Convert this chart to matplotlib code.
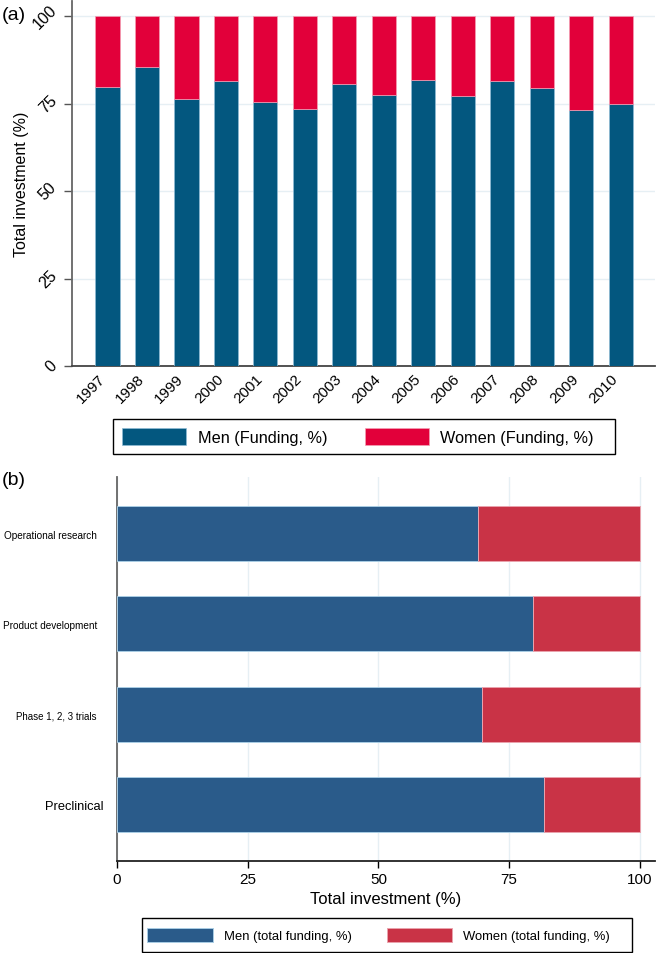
import matplotlib
matplotlib.use("Agg")
import matplotlib.pyplot as plt
import matplotlib.transforms as mtransforms
import numpy as np
from matplotlib.patches import Patch, Rectangle

plt.rcParams['font.family'] = ['Liberation Sans', 'DejaVu Sans']

# ---- Data panel (a) ----
years = ['1997', '1998', '1999', '2000', '2001', '2002', '2003',
         '2004', '2005', '2006', '2007', '2008', '2009', '2010']
men_a = [79.7, 85.4, 76.3, 81.4, 75.4, 73.4, 80.6,
         77.4, 81.7, 77.1, 81.4, 79.4, 73.1, 74.9]
women_a = [20.3, 14.6, 23.7, 18.6, 24.6, 26.6, 19.4,
           22.6, 18.3, 22.9, 18.6, 20.6, 26.9, 25.1]
yticks_a = [0, 25, 50, 75, 100]

# ---- Data panel (b) ----
categories_b = ['Preclinical', 'Phase 1, 2, 3 trials',
                'Product development', 'Operational research']
men_b = [81.6, 69.9, 79.6, 69.0]
women_b = [18.4, 30.1, 20.4, 31.0]
xticks_b = [0, 25, 50, 75, 100]

W, H = 658, 954
fig = plt.figure(figsize=(W / 100, H / 100), dpi=100)

men_col_a = '#03577f'
women_col_a = '#e2003a'
men_col_b = '#2a5b8a'
women_col_b = '#c93346'
grid_col = '#e6eff4'


def px(dx, dy=0):
    return mtransforms.ScaledTranslation(dx / 100, dy / 100, fig.dpi_scale_trans)


def frame(x0, y0, x1, y1):
    fig.patches.append(Rectangle((x0 / W, 1 - y1 / H), (x1 - x0) / W, (y1 - y0) / H,
                                 transform=fig.transFigure, fill=False,
                                 edgecolor='black', linewidth=1.0, zorder=5))


# ---------------- Panel (a) ----------------
axa = fig.add_axes([72 / W, 1 - 367 / H, 583 / W, 365 / H])
x = np.arange(len(years))
axa.bar(x, men_a, width=0.61, color=men_col_a, edgecolor='#8fbcd6', linewidth=0.5, zorder=3)
axa.bar(x, women_a, bottom=men_a, width=0.61, color=women_col_a, edgecolor='#f3a0b4', linewidth=0.5, zorder=3)
axa.set_xlim(-0.9, 13.87)
axa.set_ylim(0, 104.3)
axa.set_yticks(yticks_a)
axa.set_yticklabels([str(v) for v in yticks_a], rotation=45, fontsize=11.5, va='center', ha='right')
axa.set_xticks(x)
axa.set_xticklabels(years, rotation=45, ha='right', va='top', fontsize=11)
for lab in axa.get_xticklabels():
    lab.set_transform(lab.get_transform() + px(4, 0))
axa.tick_params(axis='x', length=0, pad=4)
axa.tick_params(axis='y', length=6, width=1, color='#555555', pad=3)
for v in yticks_a:
    axa.axhline(v, color=grid_col, lw=1, zorder=1)
for s in ['top', 'right']:
    axa.spines[s].set_visible(False)
axa.spines['left'].set_color('#666666')
axa.spines['left'].set_linewidth(1.3)
axa.spines['bottom'].set_color('#444444')
axa.spines['bottom'].set_linewidth(1.3)
axa.set_ylabel('Total investment (%)', fontsize=11.5)
axa.yaxis.set_label_coords(-0.074, 0.5)

fig.legend(handles=[Patch(facecolor=men_col_a, edgecolor='#8fbcd6', lw=0.5, label='Men (Funding, %)'),
                    Patch(facecolor=women_col_a, edgecolor='#f3a0b4', lw=0.5, label='Women (Funding, %)')],
           loc='center', bbox_to_anchor=(358 / W, 1 - 437.5 / H), ncol=2,
           fontsize=11.7, handlelength=3.95, handleheight=1.17, handletextpad=0.7,
           columnspacing=2.3, borderpad=0.0, frameon=False)
frame(113, 420, 615, 455)

fig.text(2 / W, 1 - 15 / H, '(a)', fontsize=14, ha='left', va='center')

# ---------------- Panel (b) ----------------
axb = fig.add_axes([117 / W, 1 - 862 / H, 538 / W, 384 / H])
yb = np.arange(len(categories_b))
axb.barh(yb, men_b, height=0.61, color=men_col_b, edgecolor='#a9cde3', linewidth=0.7, zorder=3)
axb.barh(yb, women_b, left=men_b, height=0.61, color=women_col_b, edgecolor='#eaa3ad', linewidth=0.7, zorder=3)
axb.set_xlim(0, 102.9)
axb.set_ylim(-0.626, 3.626)
axb.set_xticks(xticks_b)
axb.set_xticklabels([str(v) for v in xticks_b], fontsize=11)
axb.tick_params(axis='x', length=5, width=1, pad=3)
axb.set_yticks(yb)
axb.set_yticklabels(categories_b)
label_sizes = [9.3, 7.0, 7.2, 7.2]
for lab, fs in zip(axb.get_yticklabels(), label_sizes):
    lab.set_fontsize(fs)
axb.tick_params(axis='y', length=0, pad=14.4)
t0 = axb.get_yticklabels()[0]
t0.set_transform(t0.get_transform() + px(7, 0))
for v in xticks_b:
    axb.axvline(v, color=grid_col, lw=1, zorder=1)
for s in ['top', 'right']:
    axb.spines[s].set_visible(False)
axb.spines['left'].set_color('#666666')
axb.spines['left'].set_linewidth(1.3)
axb.spines['bottom'].set_color('#222222')
axb.spines['bottom'].set_linewidth(1.3)
axb.set_xlabel('Total investment (%)', fontsize=12)
axb.xaxis.set_label_coords(0.5, -0.078)

fig.legend(handles=[Patch(facecolor=men_col_b, edgecolor='#a9cde3', lw=0.7, label='Men (total funding, %)'),
                    Patch(facecolor=women_col_b, edgecolor='#eaa3ad', lw=0.7, label='Women (total funding, %)')],
           loc='center', bbox_to_anchor=(378.5 / W, 1 - 936 / H), ncol=2,
           fontsize=9.4, handlelength=5.0, handleheight=1.37, handletextpad=0.84,
           columnspacing=2.7, borderpad=0.0, frameon=False)
frame(142, 919, 632, 953)

fig.text(2 / W, 1 - 481 / H, '(b)', fontsize=14, ha='left', va='center')

fig.savefig('out.png', dpi=100)
